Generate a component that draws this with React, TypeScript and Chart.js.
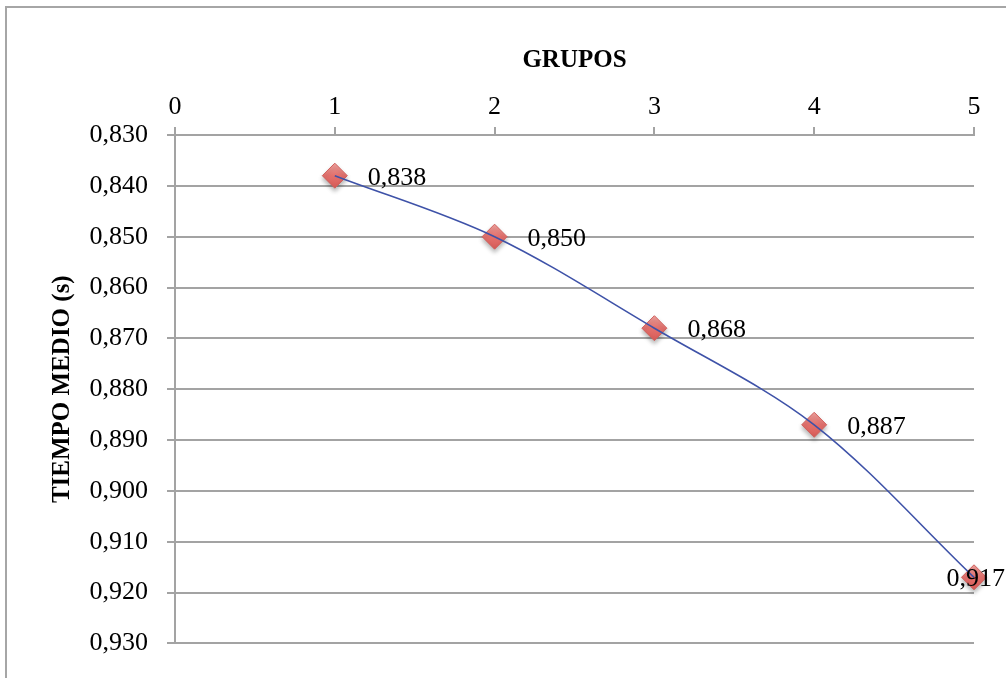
import React, { useEffect, useRef } from "react";
import { Chart, registerables } from "chart.js";

Chart.register(...registerables);

const grupos = [1, 2, 3, 4, 5];
const tiempoMedio = [0.838, 0.85, 0.868, 0.887, 0.917];
const xTicks = [0, 1, 2, 3, 4, 5];
const yMin = 0.83;
const yMax = 0.93;
const yStep = 0.01;

const fmt = (v: number) => v.toFixed(3).replace(".", ",");

const FONT = "'Liberation Serif', 'DejaVu Serif', serif";
const GRID = "#a3a3a3";

const PAD_LEFT = 8;
const PAD_TOP = 8;

export default function App() {
  const ref = useRef<HTMLCanvasElement | null>(null);

  useEffect(() => {
    if (!ref.current) return;
    const points = grupos.map((g, i) => ({ x: g, y: tiempoMedio[i] }));

    const borderPlugin = {
      id: "outerBorder",
      beforeDraw(chart: any) {
        const ctx = chart.ctx;
        ctx.save();
        ctx.fillStyle = "#ffffff";
        ctx.fillRect(0, 0, chart.width, chart.height);
        ctx.strokeStyle = "#a6a6a6";
        ctx.lineWidth = 2;
        ctx.beginPath();
        ctx.moveTo(6, chart.height + 10);
        ctx.lineTo(6, 7);
        ctx.lineTo(chart.width + 10, 7);
        ctx.stroke();
        ctx.restore();
      },
    };

    const shadowPlugin = {
      id: "markerShadow",
      beforeDatasetDraw(chart: any, args: any) {
        if (args.index !== 1) return;
        const ctx = chart.ctx;
        ctx.save();
        ctx.shadowColor = "rgba(0,0,0,0.28)";
        ctx.shadowBlur = 4;
        ctx.shadowOffsetX = 0;
        ctx.shadowOffsetY = 3;
      },
      afterDatasetDraw(chart: any, args: any) {
        if (args.index !== 1) return;
        chart.ctx.restore();
      },
    };

    const labelPlugin = {
      id: "dataLabels",
      afterDatasetsDraw(chart: any) {
        const ctx = chart.ctx;
        const meta = chart.getDatasetMeta(1);
        ctx.save();
        ctx.font = `26px ${FONT}`;
        ctx.fillStyle = "#000000";
        ctx.textBaseline = "middle";
        ctx.textAlign = "left";
        meta.data.forEach((el: any, i: number) => {
          const text = fmt(tiempoMedio[i]);
          const w = ctx.measureText(text).width;
          let x = el.x + 33;
          if (x + w > chart.width - 1) x = chart.width - 1 - w;
          ctx.fillText(text, x, el.y + 2);
        });
        ctx.restore();
      },
    };

    const markerFill = (c: any) => {
      const chart = c.chart;
      const ys = chart.scales && chart.scales.y;
      if (!ys || !c.parsed) return "#e26c69";
      const py = ys.getPixelForValue(c.parsed.y);
      if (!Number.isFinite(py)) return "#e26c69";
      const g = chart.ctx.createLinearGradient(0, py - 12, 0, py + 12);
      g.addColorStop(0, "#f0a09c");
      g.addColorStop(0.5, "#e3706c");
      g.addColorStop(1, "#d85c58");
      return g;
    };

    const chart = new Chart(ref.current, {
      type: "line",
      data: {
        datasets: [
          {
            label: "curva",
            data: points,
            borderColor: "#3e52a8",
            borderWidth: 1.6,
            pointRadius: 0,
            tension: 0.33,
            fill: false,
            clip: false as any,
            order: 0,
          },
          {
            label: "TIEMPO MEDIO",
            data: points,
            showLine: false,
            pointStyle: "rectRot",
            pointRadius: 12.5,
            pointBackgroundColor: markerFill as any,
            pointBorderColor: "#d0605c",
            pointBorderWidth: 1,
            clip: false as any,
            order: 1,
          },
        ],
      },
      options: {
        responsive: false,
        animation: false,
        events: [],
        layout: {
          padding: { left: PAD_LEFT, top: PAD_TOP, right: 32, bottom: 34 },
        },
        plugins: {
          legend: { display: false },
          tooltip: { enabled: false },
        },
        scales: {
          x: {
            type: "linear",
            position: "top",
            min: 0,
            max: 5,
            afterBuildTicks: (scale: any) => {
              scale.ticks = xTicks.map((v) => ({ value: v }));
            },
            afterFit: (scale: any) => {
              scale.height = 135 - PAD_TOP;
            },
            ticks: {
              stepSize: 1,
              padding: 4,
              color: "#000000",
              font: { family: FONT, size: 26 },
              callback: (v: any) => String(v),
            },
            grid: {
              drawOnChartArea: false,
              drawTicks: true,
              tickLength: 8,
              color: GRID,
              lineWidth: 2,
            },
            border: { display: true, color: GRID, width: 2 },
            title: {
              display: true,
              text: "GRUPOS",
              color: "#000000",
              font: { family: FONT, size: 25, weight: "bold" },
              padding: { top: 38, bottom: 0 },
            },
          },
          y: {
            type: "linear",
            position: "left",
            reverse: true,
            min: yMin,
            max: yMax,
            afterFit: (scale: any) => {
              scale.width = 175 - PAD_LEFT;
            },
            ticks: {
              stepSize: yStep,
              padding: 19,
              color: "#000000",
              font: { family: FONT, size: 26 },
              callback: (v: any) => fmt(Number(v)),
            },
            grid: {
              drawOnChartArea: true,
              drawTicks: true,
              tickLength: 8,
              color: GRID,
              lineWidth: 2,
            },
            border: { display: true, color: GRID, width: 2 },
            title: {
              display: true,
              text: "TIEMPO MEDIO (s)",
              color: "#000000",
              font: { family: FONT, size: 25, weight: "bold" },
              padding: { top: 40, bottom: 0 },
            },
          },
        },
      },
      plugins: [borderPlugin, shadowPlugin, labelPlugin],
    });

    return () => {
      chart.destroy();
    };
  }, []);

  return (
    <div style={{ position: "fixed", left: 0, top: 0, width: 1006, height: 678 }}>
      <canvas ref={ref} width={1006} height={678} style={{ display: "block" }} />
    </div>
  );
}
